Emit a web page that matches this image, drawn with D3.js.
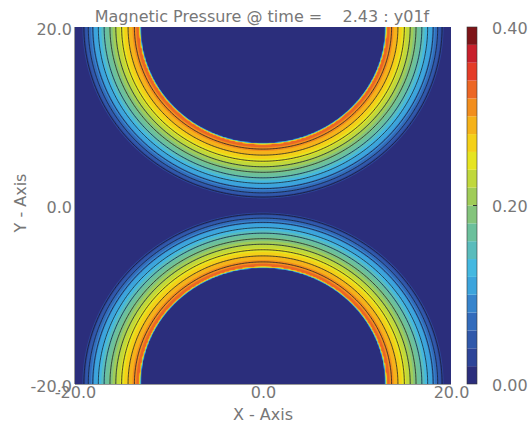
<!DOCTYPE html>
<html lang="en">
<head>
    <meta charset="UTF-8">
    <title>Magnetic Pressure</title>
    <script src="https://d3js.org/d3.v7.min.js"></script>
    <style>
        body { margin: 0; background: #fff; }
        text { font-family: "DejaVu Sans", sans-serif; fill: #777; }
    </style>
</head>
<body>
<script type="text/javascript">
    // ring centres (x = 0)
    var ringCentersX = [0, 0];
    var ringCentersY = [20, -20];
    // radial profile of the pressure (distance from ring centre, value)
    var profileR = [13.0, 13.15, 14.0, 15.0, 16.0, 17.0, 18.0, 19.0, 19.5];
    var profileP = [0, 0.335, 0.295, 0.25, 0.20, 0.15, 0.10, 0.035, 0];
    // filled levels (colour bar bands) and their colours
    var levels = [0, 0.02, 0.04, 0.06, 0.08, 0.10, 0.12, 0.14, 0.16, 0.18,
                  0.20, 0.22, 0.24, 0.26, 0.28, 0.30, 0.32, 0.34, 0.36, 0.38, 0.40];
    var bandColors = ['#2b2e7c', '#2d4498', '#3058aa', '#336cbc', '#3784cc',
                      '#3ca4dc', '#44b8e0', '#5abcbc', '#6cc09c', '#84c47c',
                      '#a0cc58', '#c0d83c', '#e6e420', '#f4d018', '#f5b21a',
                      '#f28e1e', '#ec6624', '#e43c28', '#c8202c', '#7e1418'];
    // contour line levels
    var lineLevels = [0.031, 0.062, 0.093, 0.124, 0.155, 0.186, 0.217, 0.248, 0.279, 0.31];
    // ticks
    var xTicks = [-20, 0, 20];
    var yTicks = [-20, 0, 20];
    var cbTicks = [0, 0.2, 0.4];

    var width = 528, height = 428;
    var plot = {left: 75, right: 451, top: 27, bottom: 384};

    var svg = d3.select('body').append('svg')
            .attr('width', width)
            .attr('height', height);

    var xScale = d3.scaleLinear().domain([-20, 20]).range([plot.left, plot.right]);
    var yScale = d3.scaleLinear().domain([-20, 20]).range([plot.bottom, plot.top]);

    // profile lookups: fill drops to 0 inside the ring, lines field stays at peak
    var fillProfile = d3.scaleLinear().domain(profileR).range(profileP).clamp(true);
    var lineProfile = d3.scaleLinear().domain(profileR.slice(1)).range(profileP.slice(1)).clamp(true);

    // sample grid (a bit larger than the plot so the grid border is clipped off)
    var n = 260, lo = -20.6, hi = 20.6, step = (hi - lo) / n;
    var fillField = new Array(n * n), lineField = new Array(n * n);
    for (var j = 0; j < n; j++) {
        var y = hi - (j + 0.5) * step;
        for (var i = 0; i < n; i++) {
            var x = lo + (i + 0.5) * step;
            var vf = 0, vl = 0;
            for (var k = 0; k < ringCentersY.length; k++) {
                var r = Math.hypot(x - ringCentersX[k], y - ringCentersY[k]);
                vf = Math.max(vf, fillProfile(r));
                vl = Math.max(vl, lineProfile(r));
            }
            fillField[j * n + i] = vf;
            lineField[j * n + i] = vl;
        }
    }

    var proj = d3.geoTransform({
        point: function (gx, gy) {
            this.stream.point(xScale(lo + gx * step), yScale(hi - gy * step));
        }
    });
    var path = d3.geoPath(proj);

    svg.append('clipPath').attr('id', 'clip')
            .append('rect')
            .attr('x', plot.left).attr('y', plot.top)
            .attr('width', plot.right - plot.left)
            .attr('height', plot.bottom - plot.top);

    var g = svg.append('g').attr('clip-path', 'url(#clip)');

    var fills = d3.contours().size([n, n]).thresholds(levels.slice(0, -1))(fillField);
    g.selectAll('.band')
            .data(fills)
            .enter()
            .append('path')
            .attr('class', 'band')
            .attr('d', path)
            .attr('fill', function (d, i) { return bandColors[i]; });

    var lines = d3.contours().size([n, n]).thresholds(lineLevels)(lineField);
    g.selectAll('.cline')
            .data(lines)
            .enter()
            .append('path')
            .attr('class', 'cline')
            .attr('d', path)
            .attr('fill', 'none')
            .attr('stroke', '#15182a')
            .attr('stroke-opacity', 0.85)
            .attr('stroke-width', 0.9);

    // frame lines on the left and bottom
    svg.append('line')
            .attr('x1', plot.left - 0.5).attr('x2', plot.left - 0.5)
            .attr('y1', plot.top).attr('y2', plot.bottom)
            .attr('stroke', '#999');
    svg.append('line')
            .attr('x1', plot.left).attr('x2', plot.right)
            .attr('y1', plot.bottom + 0.5).attr('y2', plot.bottom + 0.5)
            .attr('stroke', '#999');

    var fmt1 = function (d) { return d.toFixed(1); };

    var xAxis = svg.append('g')
            .attr('transform', 'translate(0,' + plot.bottom + ')')
            .call(d3.axisBottom(xScale).tickValues(xTicks).tickFormat(fmt1).tickSize(0).tickPadding(3));
    var yAxis = svg.append('g')
            .attr('transform', 'translate(' + plot.left + ',2)')
            .call(d3.axisLeft(yScale).tickValues(yTicks).tickFormat(fmt1).tickSize(0).tickPadding(3));
    [xAxis, yAxis].forEach(function (a) {
        a.select('.domain').remove();
        a.selectAll('text').style('font-family', '"DejaVu Sans", sans-serif')
                .style('font-size', '16px').attr('fill', '#777');
    });

    // colour bar
    var cb = {x: 467, w: 10};
    var cScale = d3.scaleLinear().domain([0, 0.4]).range([plot.bottom, plot.top]);
    svg.selectAll('.cbband')
            .data(bandColors)
            .enter()
            .append('rect')
            .attr('class', 'cbband')
            .attr('x', cb.x)
            .attr('width', cb.w)
            .attr('y', function (d, i) { return cScale(levels[i + 1]); })
            .attr('height', function (d, i) { return cScale(levels[i]) - cScale(levels[i + 1]); })
            .attr('fill', function (d) { return d; });
    svg.append('rect')
            .attr('x', cb.x).attr('y', plot.top)
            .attr('width', cb.w).attr('height', plot.bottom - plot.top)
            .attr('fill', 'none').attr('stroke', '#333').attr('stroke-width', 0.6);
    var cAxis = svg.append('g')
            .attr('transform', 'translate(' + (cb.x + cb.w) + ',1)')
            .call(d3.axisRight(cScale).tickValues(cbTicks).tickFormat(d3.format('.2f')).tickSize(0).tickPadding(15));
    cAxis.select('.domain').remove();
    cAxis.selectAll('text').style('font-family', '"DejaVu Sans", sans-serif')
            .style('font-size', '16px').attr('fill', '#777');
    svg.append('line')
            .attr('x1', cb.x + cb.w - 4).attr('x2', cb.x + cb.w)
            .attr('y1', cScale(0.2)).attr('y2', cScale(0.2))
            .attr('stroke', '#333');

    // titles
    svg.append('text')
            .attr('x', 262).attr('y', 22)
            .attr('text-anchor', 'middle')
            .style('font-size', '16px')
            .style('white-space', 'pre')
            .text('Magnetic Pressure @ time =    2.43 : y01f');
    svg.append('text')
            .attr('x', 263).attr('y', 420)
            .attr('text-anchor', 'middle')
            .style('font-size', '16px')
            .text('X - Axis');
    svg.append('text')
            .attr('transform', 'translate(26,203) rotate(-90)')
            .attr('text-anchor', 'middle')
            .style('font-size', '16px')
            .text('Y - Axis');
</script>
</body>
</html>
